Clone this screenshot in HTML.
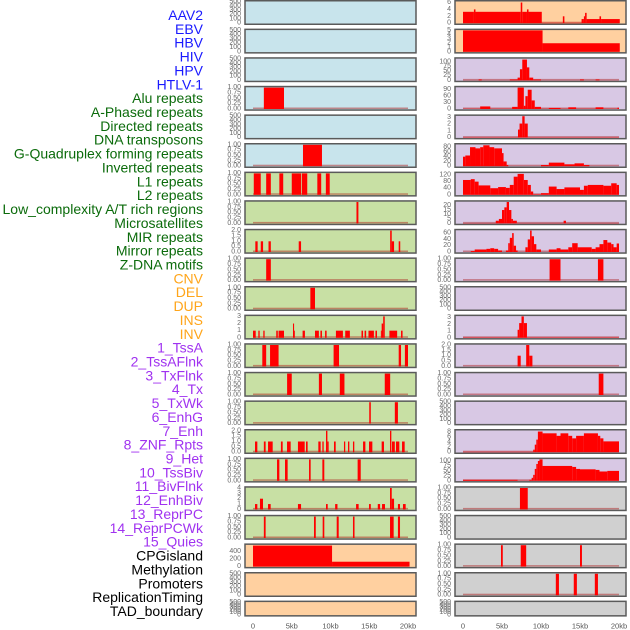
<!DOCTYPE html>
<html><head><meta charset="utf-8"><style>
html,body{margin:0;padding:0;background:#fff;}
svg{display:block;font-family:"Liberation Sans",sans-serif;}
</style></head><body>
<svg id="chart" width="630" height="630" viewBox="0 0 630 630" xmlns="http://www.w3.org/2000/svg"></svg>
<script>
// ---- labels ----
const labelNames = ["AAV2","EBV","HBV","HIV","HPV","HTLV-1","Alu repeats","A-Phased repeats","Directed repeats","DNA transposons","G-Quadruplex forming repeats","Inverted repeats","L1 repeats","L2 repeats","Low_complexity A/T rich regions","Microsatellites","MIR repeats","Mirror repeats","Z-DNA motifs","CNV","DEL","DUP","INS","INV","1_TssA","2_TssAFlnk","3_TxFlnk","4_Tx","5_TxWk","6_EnhG","7_Enh","8_ZNF_Rpts","9_Het","10_TssBiv","11_BivFlnk","12_EnhBiv","13_ReprPC","14_ReprPCWk","15_Quies","CPGisland","Methylation","Promoters","ReplicationTiming","TAD_boundary"];
const labelGroups = [6,13,5,15,5];
const groupColors = ["#1a1aff","#0b6b0b","#ffa51a","#a032f0","#000000"];
const xTickValues = [0,5,10,15,20];
const xTickLabels = ["0","5kb","10kb","15kb","20kb"];

// ---- tick sets ----
const ticksEmpty = [0,100,200,300,400,500];
const ticksUnit = [0,0.25,0.5,0.75,1];
const ticksUnitLbl = ["0.00","0.25","0.50","0.75","1.00"];
const ticksTwo = [0,0.5,1,1.5,2];
const ticksTwoLbl = ["0.0","0.5","1.0","1.5","2.0"];

// ---- segment data [startKb, endKb, value] ----
const segHIV = [[1.4,4.0,1]];
const segHTLV = [[6.45,8.9,1]];
const segAlu = [[0.1,1.0,1],[1.7,2.3,1],[3.4,3.9,1],[5.0,6.2,1],[6.3,7.0,1],[8.3,8.8,1],[9.4,9.9,1]];
const segAPhased = [[13.35,13.6,1]];
const segDirected = [[0.3,0.6,1],[1.0,1.3,1],[2.0,2.3,1],[5.9,6.2,1],[17.7,17.9,2],[17.9,18.2,1],[18.8,19.0,1]];
const segDNAtrans = [[1.7,2.3,1]];
const segGQuad = [[7.4,8.0,1]];
const segInverted = [[0.0,0.35,1],[0.69,0.86,1],[1.33,1.5,1],[3.0,3.2,1],[3.3,4.0,1],[5.16,5.3,2],[5.3,5.4,1],[6.4,6.7,1],[8.0,8.5,1],[8.7,8.9,1],[9.3,9.5,1],[10.7,11.6,1],[11.9,12.5,1],[14.0,14.2,1],[14.4,14.6,1],[14.9,15.6,1],[15.8,16.0,1],[16.5,16.6,1],[16.6,16.8,2],[16.8,17.0,3],[17.6,18.6,1],[19.1,19.3,1]];
const segL1 = [[1.2,1.7,1],[2.2,3.3,1],[10.4,11.1,1],[18.8,19.1,1],[19.6,20.0,1]];
const segL2 = [[4.4,5.0,1],[8.5,8.9,1],[11.2,11.8,1],[17.0,17.7,1]];
const segLowComplex = [[15.0,15.2,1],[18.3,18.7,1]];
const segMicrosat = [[0.26,0.56,1],[1.4,1.63,1],[1.94,2.54,1],[3.6,3.83,1],[4.39,4.86,1],[5.8,6.67,1],[6.84,7.05,1],[8.43,8.73,1],[8.95,9.12,1],[9.42,9.6,2],[9.6,9.76,1],[10.45,10.67,1],[11.74,11.9,1],[12.26,12.43,1],[12.9,13.07,1],[14.2,14.5,1],[14.97,15.4,1],[16.6,16.9,1],[17.68,17.85,2],[17.93,18.3,1],[18.45,18.88,1],[19.23,19.57,1]];
const segMIR = [[3.1,3.4,1],[4.13,4.47,1],[7.23,7.44,1],[8.95,9.2,1],[13.5,13.9,1]];
const segMirror = [[0.26,0.56,1],[0.9,1.29,2],[1.94,2.28,1],[5.8,6.2,1],[9.42,9.64,1],[10.6,10.9,1],[13.3,13.63,1],[14.97,15.2,1],[16.1,16.4,1],[16.65,17.03,1],[17.68,17.9,4],[17.9,18.2,2],[18.7,18.97,1],[19.35,19.7,1]];
const segZDNA = [[1.4,1.63,1],[7.87,8.1,1],[8.99,9.2,1],[10.8,11.06,1],[12.9,13.1,1],[17.68,18.15,1],[18.7,18.97,1]];
const segCNV = [[0,10.2,560],[10.2,20.2,130]];
const segINS = [[0,1.4,3.3],[1.4,1.6,4],[1.6,7.4,3.3],[7.4,7.6,6],[7.6,8.2,3.3],[8.2,8.4,4],[8.4,10.1,3.3],[10.1,12.8,0.1],[12.8,13.0,2],[13.0,15.2,0.1],[15.2,15.5,1.2],[15.5,15.65,2],[15.65,15.85,3],[15.85,17.5,1.2],[17.5,17.7,2],[17.7,20.1,1.2]];
const segINV = [[0,10.2,5],[10.2,20.1,2]];
const segTssA = [[0,2.0,0.5],[2.0,2.4,5],[2.4,6.0,0.5],[6.0,7.0,5],[7.0,7.3,15],[7.3,7.6,60],[7.6,8.2,112],[8.2,8.5,70],[8.5,9.0,15],[9.0,10.0,5],[10.0,15.0,0.5],[15.0,15.5,5],[15.5,17.0,0.5],[17.0,17.5,5],[17.5,20.0,0.5]];
const segTssAFlnk = [[0,2.2,1],[2.2,3.5,12],[3.5,6.3,1],[6.3,7.0,10],[7.0,7.8,100],[7.8,8.0,15],[8.0,8.3,60],[8.3,8.8,90],[8.8,9.2,40],[9.2,10.0,10],[10.0,11.0,1],[11.0,12.5,5],[12.5,13.5,1],[13.5,14.5,8],[14.5,17.0,1],[17.0,18.0,8],[18.0,19.8,1],[19.8,20.0,6]];
const segTxFlnk = [[0,7.05,0.05],[7.05,7.25,1.2],[7.25,7.6,2.1],[7.6,7.9,3.2],[7.9,8.3,2.1],[8.3,20,0.05]];
const segTx = [[0,0.3,40],[0.3,0.9,45],[0.9,1.6,80],[1.6,2.2,75],[2.2,2.6,80],[2.6,3.4,88],[3.4,4.0,80],[4.0,5.0,75],[5.0,5.2,55],[5.2,5.6,20],[5.6,5.8,5],[10.0,11.0,5],[11.0,13.0,15],[13.0,14.3,8],[14.3,15.5,12],[15.5,16.2,5]];
const segTxWk = [[0,1.0,90],[1.0,1.5,95],[1.5,2.0,80],[2.0,3.5,57],[3.5,4.5,40],[4.5,5.5,47],[5.5,6.0,42],[6.0,6.5,60],[6.5,7.0,110],[7.0,7.8,127],[7.8,8.3,90],[8.3,8.7,60],[8.7,9.0,20],[9.0,10.0,3],[10.0,11.0,10],[11.0,12.0,50],[12.0,13.0,35],[13.0,15.0,45],[15.0,15.5,30],[15.5,16.0,55],[16.0,18.0,60],[18.0,19.0,55],[19.0,19.7,70],[19.7,20.0,60]];
const segEnhG = [[0,4.2,0.3],[4.2,4.6,3],[4.6,5.0,5],[5.0,5.3,15],[5.3,5.6,18],[5.6,5.9,24],[5.9,6.2,15],[6.2,6.4,5],[6.4,6.9,3],[6.9,12.9,0.3],[12.9,13.2,3],[13.2,20,0.3]];
const segEnh = [[1.0,1.5,3],[1.5,2.5,8],[2.5,3.0,8],[3.0,3.5,10],[3.5,4.0,12],[4.0,4.5,10],[4.5,5.0,5],[5.5,5.8,5],[5.8,6.0,28],[6.0,6.3,45],[6.3,6.5,60],[6.5,6.8,20],[6.8,7.0,5],[8.0,8.3,15],[8.3,8.6,40],[8.6,8.8,68],[8.8,9.1,50],[9.1,9.4,25],[9.4,10.0,8],[11.0,12.0,8],[12.0,12.5,12],[12.5,13.5,8],[13.5,14.0,15],[14.0,14.7,28],[14.7,16.5,15],[16.5,17.0,10],[17.0,17.5,15],[17.5,18.0,25],[18.0,18.5,38],[18.5,19.0,30],[19.0,19.3,25],[19.3,19.7,15],[19.7,20.0,27]];
const segZNF = [[11.1,12.5,1],[17.3,18.0,1]];
const segTssBiv = [[0,7.0,0.05],[7.0,7.2,1.2],[7.2,7.5,2.2],[7.5,7.8,3.2],[7.8,8.2,2.2],[8.2,20,0.05]];
const segBivFlnk = [[7.0,7.4,1],[8.1,8.5,2],[8.5,8.9,1]];
const segEnhBiv = [[17.4,18.0,1]];
const segReprPCWk = [[0,9.0,0.15],[9.0,9.2,1],[9.2,9.4,3],[9.4,9.6,5],[9.6,10.2,8.2],[10.2,12.0,7.5],[12.0,12.5,6.5],[12.5,13.5,7.5],[13.5,14.0,6.5],[14.0,14.5,5.5],[14.5,15.5,6.5],[15.5,17.3,7.5],[17.3,17.6,6.5],[17.6,18.0,5.5],[18.0,20.0,4.3]];
const segQuies = [[0,7.0,5],[7.0,8.5,1],[8.5,8.8,5],[8.8,9.0,15],[9.0,9.2,30],[9.2,9.4,60],[9.4,9.6,85],[9.6,9.8,100],[9.8,10.2,108],[10.2,14.0,75],[14.0,14.5,70],[14.5,15.0,60],[15.0,17.0,58],[17.0,17.5,55],[17.5,18.5,47],[18.5,20.0,50]];
const segCPG = [[7.3,8.3,1]];
const segPromoters = [[4.87,5.1,1],[7.4,8.1,1],[15.0,15.25,1]];
const segRepTiming = [[11.9,12.3,1],[14.2,14.6,1],[16.9,17.3,1]];

// track list: [segments or null, ymax, ticks, tickLabels]
const leftTracks = [
 [null],[null],[null],[segHIV,1],[null],[segHTLV,1],
 [segAlu,1],[segAPhased,1],[segDirected,2,ticksTwo,ticksTwoLbl],[segDNAtrans,1],[segGQuad,1],
 [segInverted,3,[0,1,2,3]],[segL1,1],[segL2,1],[segLowComplex,1],[segMicrosat,2,ticksTwo,ticksTwoLbl],
 [segMIR,1],[segMirror,4,[0,1,2,3,4]],[segZDNA,1],[segCNV,570,[0,200,400]],[null],[null]
];
const rightTracks = [
 [segINS,6.2,[0,2,4,6]],[segINV,5,[0,1,2,3,4,5]],[segTssA,115,[0,25,50,75,100]],[segTssAFlnk,100,[0,30,60,90]],
 [segTxFlnk,3.2,[0,1,2,3]],[segTx,90,[0,20,40,60,80]],[segTxWk,130,[0,40,80,120]],[segEnhG,24,[0,5,10,15,20]],
 [segEnh,68,[0,20,40,60]],[segZNF,1],[null],[segTssBiv,3.2,[0,1,2,3]],[segBivFlnk,2,ticksTwo,ticksTwoLbl],
 [segEnhBiv,1],[null],[segReprPCWk,8.5,[0,2,4,6,8]],[segQuies,108,[0,25,50,75,100]],
 [segCPG,1],[null],[segPromoters,1],[segRepTiming,1],[null]
];
const leftBg = ["#c8e4ec","#c8e4ec","#c8e4ec","#c8e4ec","#c8e4ec","#c8e4ec","#c8e0a4","#c8e0a4","#c8e0a4","#c8e0a4","#c8e0a4","#c8e0a4","#c8e0a4","#c8e0a4","#c8e0a4","#c8e0a4","#c8e0a4","#c8e0a4","#c8e0a4","#ffd0a0","#ffd0a0","#ffd0a0"];
const rightBg = ["#ffd0a0","#ffd0a0","#d8c8e4","#d8c8e4","#d8c8e4","#d8c8e4","#d8c8e4","#d8c8e4","#d8c8e4","#d8c8e4","#d8c8e4","#d8c8e4","#d8c8e4","#d8c8e4","#d8c8e4","#d8c8e4","#d8c8e4","#d0d0d0","#d0d0d0","#d0d0d0","#d0d0d0","#d0d0d0"];

const NS = "http://www.w3.org/2000/svg";
const svg = document.getElementById("chart");
function mk(tag, attrs, parent){ const e=document.createElementNS(NS,tag); for(const k in attrs) e.setAttribute(k,attrs[k]); (parent||svg).appendChild(e); return e; }

// labels
let li=0;
labelGroups.forEach((n,g)=>{ for(let k=0;k<n;k++){ const t=mk("text",{x:203,y:15+li*13.86,"text-anchor":"end","dominant-baseline":"central","font-size":"14",fill:groupColors[g]});
 t.textContent=labelNames[li];
 
 
 li++; } });

const cols = [{x0:245,x1:416,z0:253,z20:408,tracks:leftTracks,bg:leftBg,off:0},{x0:455,x1:626,z0:463,z20:619,tracks:rightTracks,bg:rightBg,off:22}];
cols.forEach(c=>{
 const xs = kb => c.z0 + (c.z20-c.z0)*kb/20;
 c.tracks.forEach((tr,i)=>{
  const top = i*28.6, h = (i===21)?16:25;
  const name = labelNames[c.off+i].toLowerCase().replace(/[^a-z0-9]+/g,'-');
  const g = mk("g",{});
  
  
  const r = mk("rect",{x:c.x0,y:top+0.75,width:c.x1-c.x0,height:h-1.5,fill:c.bg[i],stroke:"#5a5a5a","stroke-width":1.5},g);
  
  
  const pt = top+1.8, pb = top+h-1.8;
  const seg = tr[0];
  const ymax = seg ? (tr[1]||1) : 500;
  const ticks = seg ? (tr[2]||ticksUnit) : ticksEmpty;
  const tlbl = seg ? (tr[3]|| (tr[2]? tr[2].map(String) : ticksUnitLbl)) : ticksEmpty.map(String);
  const ys = v => pb - (pb-pt)*v/ymax;
  ticks.forEach((v,k)=>{ const t=mk("text",{x:c.x0-4,y:ys(v),"text-anchor":"end","dominant-baseline":"central","font-size":"7",fill:"#6a6a6a"},g);
   t.textContent=tlbl[k];
   
    });
  if(seg){
   const bl = mk("rect",{x:xs(0),y:pb-1.5,width:xs(20)-xs(0),height:1.5,fill:"rgba(170,20,20,0.45)"},g);
   
   
   seg.forEach(s=>{ const y=ys(Math.min(s[2],ymax)); const b=mk("rect",{x:xs(s[0]),y:y,width:Math.max(0.8,xs(s[1])-xs(s[0])),height:pb-y,fill:"#ff0000"},g);
    
     });
  }
 });
 xTickValues.forEach((v,k)=>{ const t=mk("text",{x:xs(v),y:626,"text-anchor":"middle","dominant-baseline":"central","font-size":"7.5",fill:"#555"});
  t.textContent=xTickLabels[k];
  
   });
});
</script>
</body></html>
